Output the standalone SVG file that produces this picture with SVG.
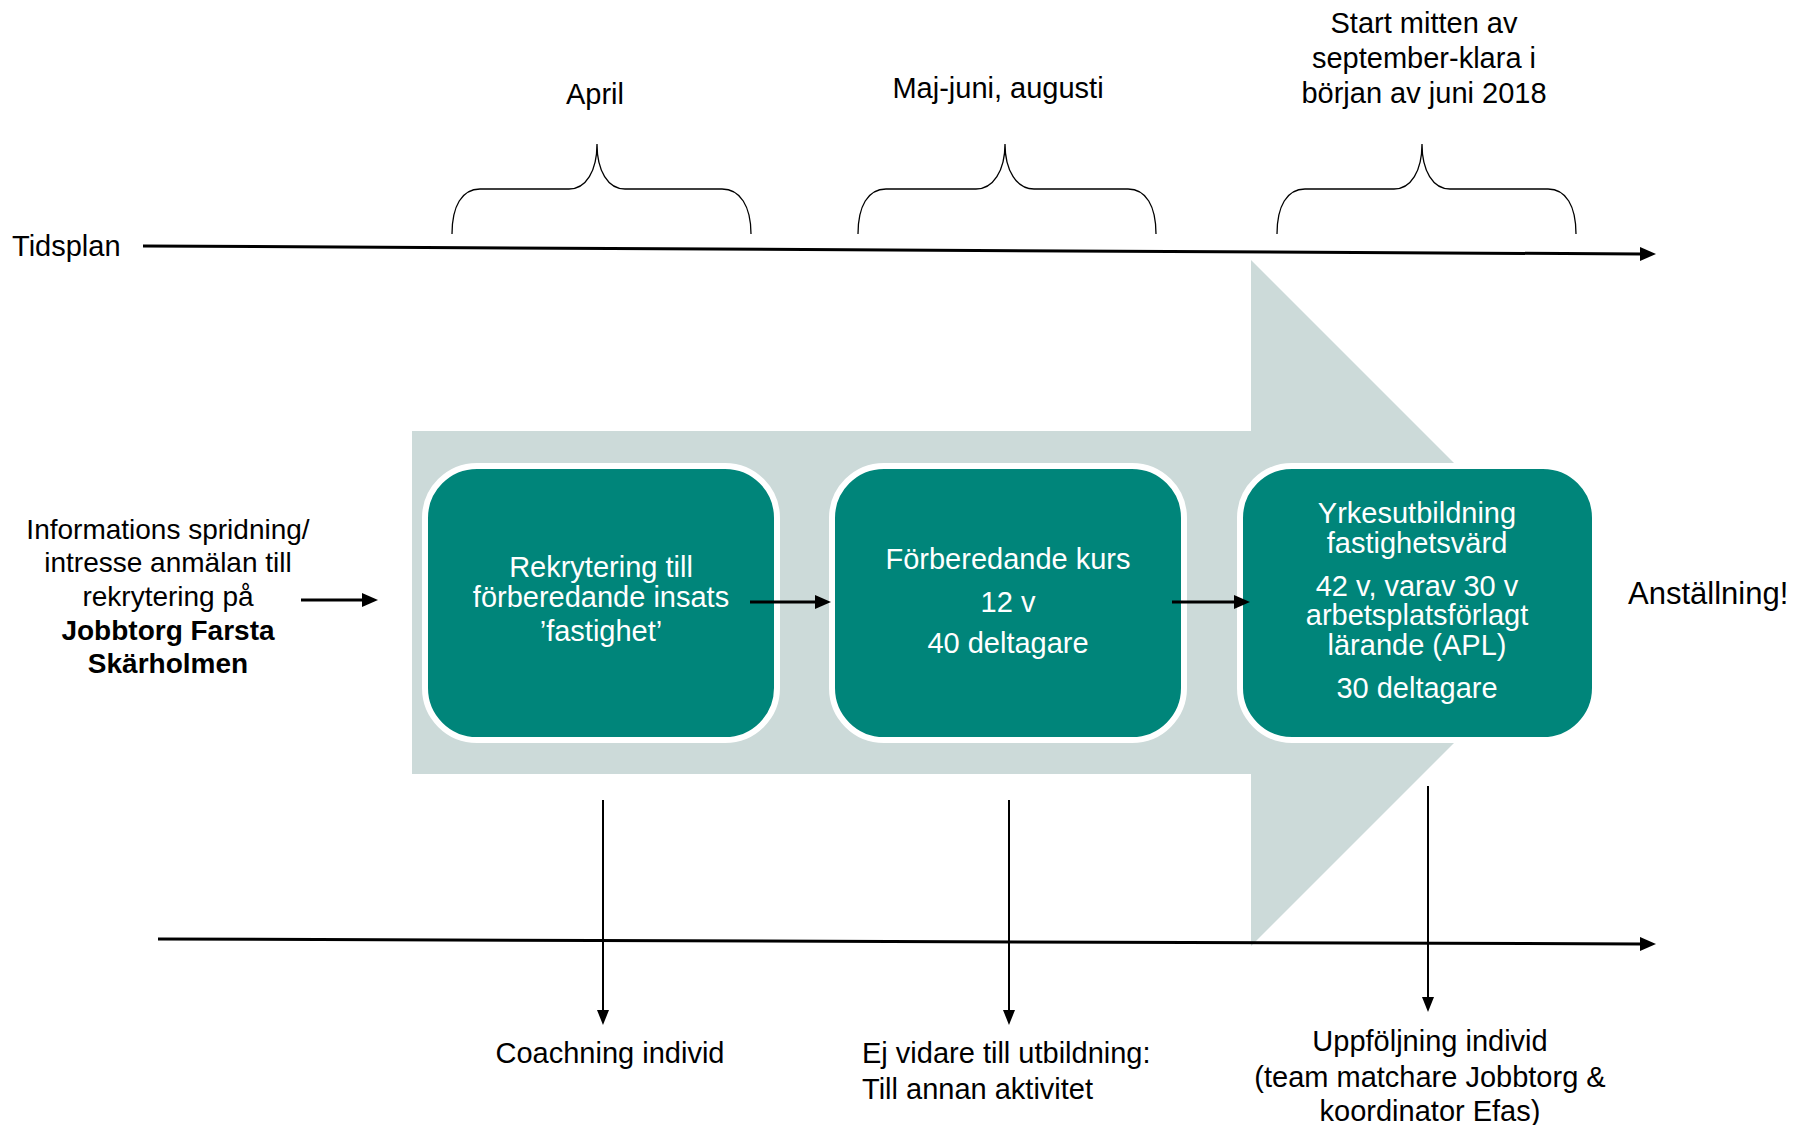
<svg xmlns="http://www.w3.org/2000/svg" width="1796" height="1125" viewBox="0 0 1796 1125">
<style>
  text { font-family: "Liberation Sans", Arial, sans-serif; fill: #000; }
  .t29 { font-size: 29px; }
  .t28 { font-size: 28px; }
  .mid { text-anchor: middle; }
  .wt { fill: #ffffff; font-size: 29px; text-anchor: middle; }
  .bold { font-weight: bold; }
  .box { fill: #00857A; stroke: #ffffff; stroke-width: 6; }
  .brace { fill: none; stroke: #000; stroke-width: 1.3; }
  .thick { stroke: #000; stroke-width: 3; fill: none; }
  .thin { stroke: #000; stroke-width: 2; fill: none; }
</style>
<defs>
  <marker id="ah" markerUnits="userSpaceOnUse" markerWidth="16" markerHeight="14" refX="2" refY="7" orient="auto">
    <path d="M0,0 L16,7 L0,14 z" fill="#000"/>
  </marker>
  <marker id="ahs" markerUnits="userSpaceOnUse" markerWidth="15" markerHeight="12" refX="1" refY="6" orient="auto">
    <path d="M0,0 L15,6 L0,12 z" fill="#000"/>
  </marker>
</defs>

<!-- background arrow -->
<polygon id="bigArrow" points="412,431 1251,431 1251,260 1594,603 1251,946 1251,774 412,774" fill="#CCDAD9"/>

<!-- timeline -->
<g id="timeline">
  <text class="t29" x="12" y="256">Tidsplan</text>
  <path class="brace" d="M452,234 C452,206 462,189 480,189 L569,189 C586,189 597,171 597,144 C597,171 608,189 625,189 L722,189 C740,189 751,206 751,234"/>
  <path class="brace" d="M858,234 C858,206 868,189 886,189 L976,189 C993,189 1005,171 1005,144 C1005,171 1017,189 1034,189 L1128,189 C1146,189 1156,206 1156,234"/>
  <path class="brace" d="M1277,234 C1277,206 1287,189 1305,189 L1394,189 C1411,189 1422,171 1422,144 C1422,171 1433,189 1450,189 L1548,189 C1566,189 1576,206 1576,234"/>
  <text class="t29 mid" x="595" y="104">April</text>
  <text class="t29 mid" x="998" y="98">Maj-juni, augusti</text>
  <text class="t29 mid" x="1424" y="33">Start mitten av</text>
  <text class="t29 mid" x="1424" y="68">september-klara i</text>
  <text class="t29 mid" x="1424" y="103">början av juni 2018</text>
</g>

<!-- left input -->
<g id="input">
  <text class="t28 mid" x="168" y="539">Informations spridning/</text>
  <text class="t28 mid" x="168" y="572">intresse anmälan till</text>
  <text class="t28 mid" x="168" y="606">rekrytering på</text>
  <text class="t28 mid bold" x="168" y="640">Jobbtorg Farsta</text>
  <text class="t28 mid bold" x="168" y="673">Skärholmen</text>
</g>

<g id="box1">
  <rect class="box" x="425" y="466" width="352" height="274" rx="52" ry="52"/>
  <text class="wt" x="601" y="577">Rekrytering till</text>
  <text class="wt" x="601" y="607">förberedande insats</text>
  <text class="wt" x="601" y="641">’fastighet’</text>
</g>

<g id="box2">
  <rect class="box" x="832" y="466" width="352" height="274" rx="52" ry="52"/>
  <text class="wt" x="1008" y="569">Förberedande kurs</text>
  <text class="wt" x="1008" y="612">12 v</text>
  <text class="wt" x="1008" y="653">40 deltagare</text>
</g>

<g id="box3">
  <rect class="box" x="1240" y="466" width="355" height="274" rx="52" ry="52"/>
  <text class="wt" x="1417" y="523">Yrkesutbildning</text>
  <text class="wt" x="1417" y="553">fastighetsvärd</text>
  <text class="wt" x="1417" y="596">42 v, varav 30 v</text>
  <text class="wt" x="1417" y="625">arbetsplatsförlagt</text>
  <text class="wt" x="1417" y="655">lärande (APL)</text>
  <text class="wt" x="1417" y="698">30 deltagare</text>
</g>

<g id="result">
  <text x="1628" y="604" style="font-size:31px">Anställning!</text>
</g>

<g id="outcomes">
  <text class="t29 mid" x="610" y="1063">Coachning individ</text>
  <text class="t29" x="862" y="1063">Ej vidare till utbildning:</text>
  <text class="t29" x="862" y="1099">Till annan aktivitet</text>
  <text class="t29 mid" x="1430" y="1051">Uppföljning individ</text>
  <text class="t29 mid" x="1430" y="1087">(team matchare Jobbtorg &amp;</text>
  <text class="t29 mid" x="1430" y="1121">koordinator Efas)</text>
</g>

<g id="connectors">
  <line class="thick" x1="143" y1="246" x2="1642" y2="254" marker-end="url(#ah)"/>
  <line class="thick" x1="158" y1="939" x2="1642" y2="944" marker-end="url(#ah)"/>
  <line class="thick" x1="301" y1="600" x2="364" y2="600" marker-end="url(#ah)"/>
  <line class="thick" x1="750" y1="602" x2="817" y2="602" marker-end="url(#ah)"/>
  <line class="thick" x1="1172" y1="602" x2="1236" y2="602" marker-end="url(#ah)"/>
  <line class="thin" x1="603" y1="800" x2="603" y2="1011" marker-end="url(#ahs)"/>
  <line class="thin" x1="1009" y1="800" x2="1009" y2="1011" marker-end="url(#ahs)"/>
  <line class="thin" x1="1428" y1="786" x2="1428" y2="998" marker-end="url(#ahs)"/>
</g>
</svg>
